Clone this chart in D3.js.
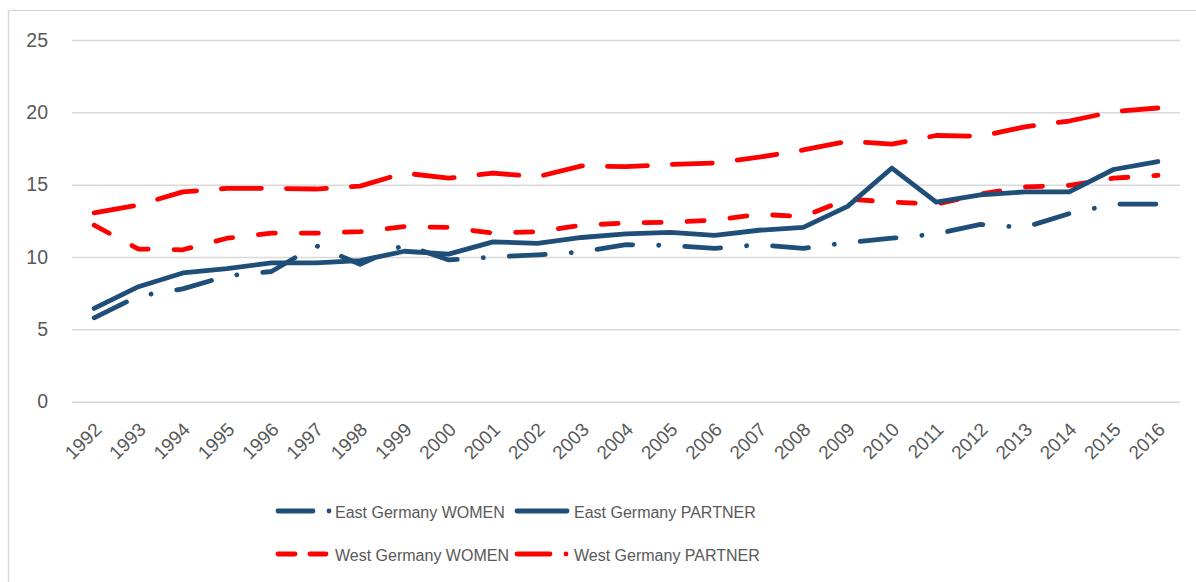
<!DOCTYPE html>
<html>
<head>
<meta charset="utf-8">
<script src="https://cdn.jsdelivr.net/npm/d3@7"></script>
<style>
  body { margin: 0; background: #fff; }
  svg { display: block; font-family: "Liberation Sans", Arial, sans-serif; }
</style>
</head>
<body>
<svg id="chart" width="1196" height="582"></svg>
<script>
const WIDTH = 1196;
const HEIGHT = 582;

// data
const years = d3.range(1992, 2017).map(String);
const yTicks = [0, 5, 10, 15, 20, 25];

const eastWomen   = [5.8, 7.3, 7.8, 8.7, 9.0, 10.8, 9.5, 10.85, 9.8, 10.0, 10.15, 10.35, 10.85, 10.8, 10.6, 10.85, 10.6, 11.0, 11.3, 11.6, 12.25, 12.05, 13.0, 13.65, 13.65];
const eastPartner = [6.45, 7.95, 8.9, 9.2, 9.6, 9.6, 9.75, 10.4, 10.2, 11.05, 10.95, 11.35, 11.6, 11.7, 11.5, 11.85, 12.05, 13.5, 16.15, 13.8, 14.3, 14.5, 14.5, 16.05, 16.6];
const westWomen   = [12.2, 10.55, 10.5, 11.3, 11.65, 11.65, 11.75, 12.1, 12.05, 11.65, 11.75, 12.2, 12.35, 12.4, 12.55, 12.95, 12.8, 14.0, 13.8, 13.65, 14.35, 14.85, 14.95, 15.45, 15.65];
const westPartner = [13.05, 13.6, 14.5, 14.75, 14.75, 14.7, 14.9, 15.8, 15.45, 15.8, 15.55, 16.3, 16.25, 16.4, 16.5, 16.9, 17.4, 18.0, 17.8, 18.4, 18.35, 19.0, 19.4, 20.05, 20.3];

const BLUE = "#1f4e79";
const RED = "#ff0000";
const GRID = "#d9d9d9";
const TEXT = "#595959";

// draw order: west first, east on top
const series = [
  { name: "West Germany PARTNER", values: westPartner, color: RED,  dash: "40 25" },
  { name: "West Germany WOMEN",   values: westWomen,   color: RED,  dash: "17 26" },
  { name: "East Germany WOMEN",   values: eastWomen,   color: BLUE, dash: "36 26 0.1 26" },
  { name: "East Germany PARTNER", values: eastPartner, color: BLUE, dash: null }
];

const svg = d3.select("#chart");

// outer chart border
svg.append("rect")
  .attr("x", 8.5).attr("y", 10.5)
  .attr("width", 1200).attr("height", 600)
  .attr("fill", "none").attr("stroke", GRID).attr("stroke-width", 1.5);

const x = d3.scalePoint().domain(years).range([72, 1180]).padding(0.5);
const y = d3.scaleLinear().domain([0, 25]).range([401.7, 40]);

// gridlines + y labels
const yAxis = d3.axisLeft(y).tickValues(yTicks).tickSize(-(1180 - 72)).tickPadding(24);
svg.append("g")
  .attr("transform", "translate(72,0)")
  .call(yAxis)
  .call(g => g.select(".domain").remove())
  .call(g => g.selectAll(".tick line").attr("stroke", GRID).attr("stroke-width", 1.5))
  .call(g => g.selectAll(".tick text")
    .attr("fill", TEXT).attr("font-size", 19.5).attr("font-family", "Liberation Sans, Arial, sans-serif"));

// x labels, rotated
const xAxis = d3.axisBottom(x).tickSize(0).tickPadding(0);
svg.append("g")
  .attr("transform", "translate(0,401.7)")
  .call(xAxis)
  .call(g => g.select(".domain").remove())
  .call(g => g.selectAll(".tick text")
    .attr("fill", TEXT).attr("font-size", 19).attr("font-family", "Liberation Sans, Arial, sans-serif")
    .attr("text-anchor", "end")
    .attr("dy", 0)
    .attr("y", 0)
    .attr("transform", "translate(8,29) rotate(-45)"));

const line = d3.line()
  .x((d, i) => x(years[i]))
  .y(d => y(d));

svg.append("g").selectAll("path")
  .data(series)
  .join("path")
  .attr("d", d => line(d.values))
  .attr("fill", "none")
  .attr("stroke", d => d.color)
  .attr("stroke-width", 4.8)
  .attr("stroke-linecap", "round")
  .attr("stroke-linejoin", "round")
  .attr("stroke-dasharray", d => d.dash);

// legend: samples drawn as segments like the original
const legendItems = [
  { name: "East Germany WOMEN",   color: BLUE, x: 278, y: 511, segs: [[0, 35], [51, 51]] },
  { name: "East Germany PARTNER", color: BLUE, x: 517, y: 511, segs: [[0, 50]] },
  { name: "West Germany WOMEN",   color: RED,  x: 278, y: 554, segs: [[0, 17], [32, 48]] },
  { name: "West Germany PARTNER", color: RED,  x: 517, y: 554, segs: [[0, 33], [49, 49]] }
];

const leg = svg.append("g").selectAll("g")
  .data(legendItems)
  .join("g")
  .attr("transform", d => `translate(${d.x},${d.y})`);

leg.selectAll("line")
  .data(d => d.segs.map(s => ({ s, color: d.color })))
  .join("line")
  .attr("x1", d => d.s[0]).attr("x2", d => d.s[1])
  .attr("y1", 0).attr("y2", 0)
  .attr("stroke", d => d.color)
  .attr("stroke-width", 4.8)
  .attr("stroke-linecap", "round");

leg.append("text")
  .attr("x", 57)
  .attr("y", 6.5)
  .attr("fill", TEXT)
  .attr("font-size", 16)
  .text(d => d.name);
</script>
</body>
</html>
